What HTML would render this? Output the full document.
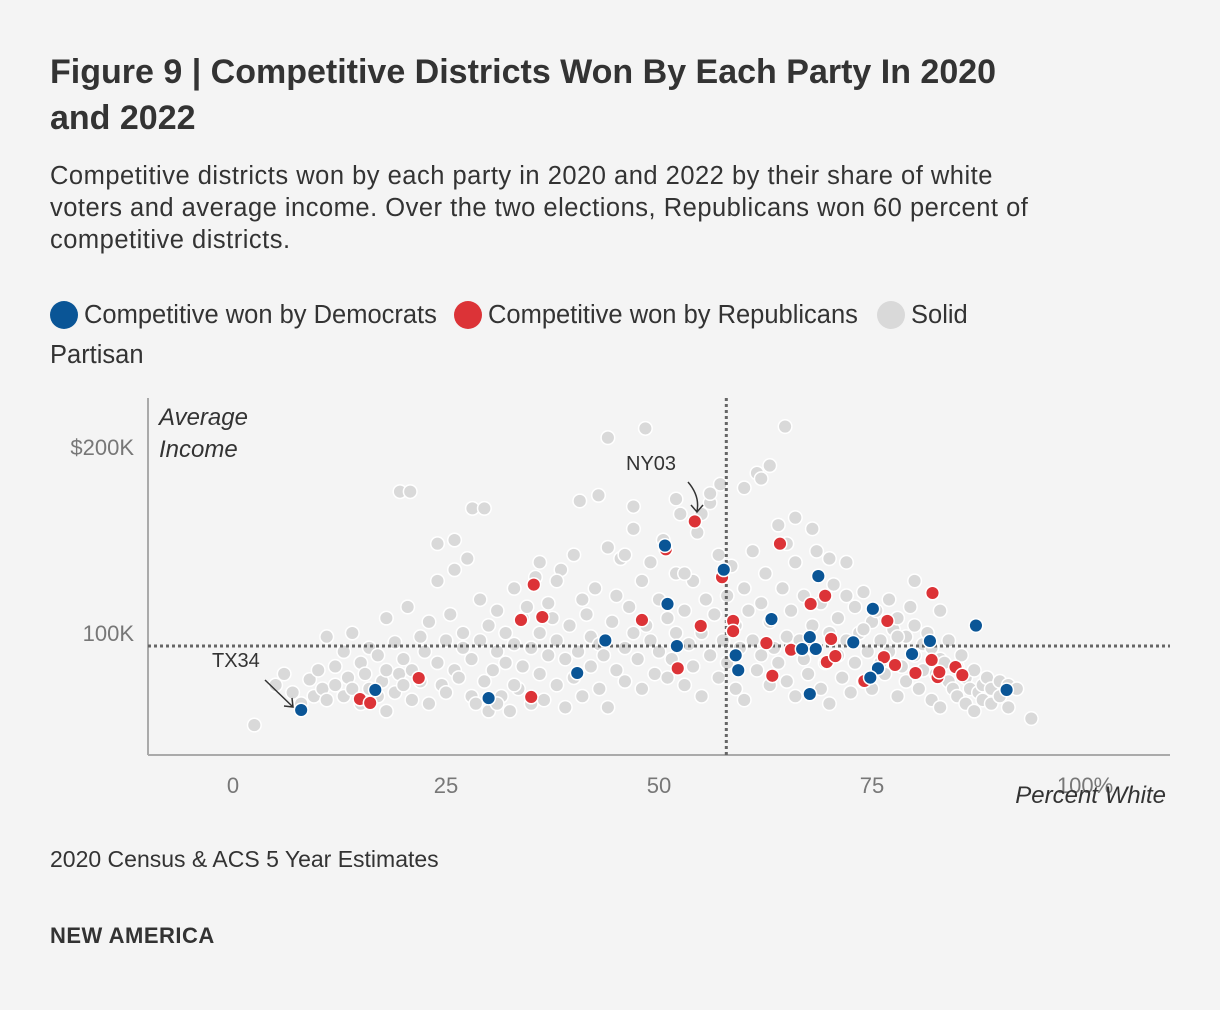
<!DOCTYPE html>
<html><head><meta charset="utf-8">
<style>
body{margin:0;width:1220px;height:1010px;background:#f4f4f4;font-family:"Liberation Sans",sans-serif;color:#333;position:relative;overflow:hidden}
.t{position:absolute;left:50px;margin:0}
h1{font-size:34px;font-weight:bold;line-height:46px;top:49px;color:#333;width:1000px}
.sub{font-size:25.5px;line-height:32px;top:160px;width:1000px;letter-spacing:0.5px}
.leg{font-size:25.5px;line-height:40px;top:295px;width:1000px}
.dot{display:inline-block;width:28px;height:28px;border-radius:50%;vertical-align:-6px;margin-right:6px}
.src{font-size:23px;top:846px}
.brand{font-size:22px;font-weight:bold;top:923px;letter-spacing:0.5px}
svg{position:absolute;left:0;top:0}
</style></head><body>
<h1 class="t">Figure 9 | Competitive Districts Won By Each Party In 2020 and 2022</h1>
<p class="t sub">Competitive districts won by each party in 2020 and 2022 by their share of white voters and average income. Over the two elections, Republicans won 60 percent of competitive districts.</p>
<div class="t leg">
<span><span class="dot" style="background:#0a5596"></span>Competitive won by Democrats</span>
<span style="margin-left:10px"><span class="dot" style="background:#dc3337"></span>Competitive won by Republicans</span>
<span style="margin-left:12px"><span class="dot" style="background:#d9d9d9"></span>Solid Partisan</span>
</div>
<p class="t src">2020 Census &amp; ACS 5 Year Estimates</p>
<p class="t brand">NEW AMERICA</p>
<svg id="chart" width="1220" height="1010"></svg>
<script>
const xTicks=[0,25,50,75];
const yTicks=[100,200];
const yTickLabels=["100K","$200K"];
const xRef=57.9, yRef=93;
const grayX=[
2.5,5,6,7,8,9,9.5,10,10.5,11,
11,12,12,13,13,13.5,14,14,15,15,
15.5,16,16,17,17,17.5,18,18,19,19,
19.5,20,20,20.5,21,21,22,22,22.5,23,
23,24,24,24.5,25,25,25.5,26,26,26.5,
27,27,27.5,28,28,28.5,29,29,29.5,30,
30,30.5,31,31,31.5,32,32,32.5,33,33,
33.5,34,34,34.5,35,35,35.5,36,36,36.5,
37,37,37.5,38,38,38.5,39,39,39.5,40,
40,40.5,41,41,41.5,42,42,42.5,43,43,
43.5,44,44,44.5,45,45,45.5,46,46,46.5,
47,47,47.5,48,48,48.5,49,49,49.5,50,
50,50.5,51,51,51.5,52,52,52.5,53,53,
53.5,54,54,54.5,55,55,55.5,56,56,56.5,
57,57,57.5,58,58,58.5,59,59,59.5,60,
60,60.5,61,61,61.5,62,62,62.5,63,63,
63.5,64,64,64.5,65,65,65.5,66,66,66.5,
67,67,67.5,68,68,68.5,69,69,69.5,70,
70,70.5,71,71,71.5,72,72,72.5,73,73,
73.5,74,74,74.5,75,75,75.5,76,76,76.5,
77,77,77.5,78,78,78.5,79,79,79.5,80,
80,80.5,81,81,81.5,82,82,82.5,83,83,
83.5,84,84,84.5,85,85,85.5,86,86,86.5,
87,87,87.5,88,88,88.5,89,89,90,90,
91,91,92,93.7,19.6,20.8,28.1,29.5,44,48.4,
64.8,61.5,62,57.2,42.9,40.7,47,52,56,60,
66,68,70,80,83,38,36,26,24,55,
53,46,63,65,72,74,78,33,31,18];
const grayY=[
50.5,72,78,68,62,75,66,80,70,98,
64,72,82,66,90,76,100,70,84,62,
78,92,70,88,66,74,80,108,68,95,
78,72,86,114,64,80,98,74,90,106,
62,84,128,72,96,68,110,80,134,76,
92,100,140,66,86,62,96,118,74,104,
58,80,90,112,66,100,84,58,94,124,
70,108,82,114,62,92,130,78,100,64,
116,88,108,72,96,134,60,86,104,76,
142,90,118,66,110,82,98,124,70,94,
88,146,60,106,120,80,140,92,74,114,
100,156,86,128,70,104,96,138,78,118,
90,150,76,108,86,132,100,164,72,112,
94,128,82,154,66,100,118,88,170,110,
76,142,96,120,84,136,70,104,92,124,
64,112,96,144,80,116,88,132,72,106,
92,158,84,124,74,98,112,138,66,96,
86,120,78,104,92,144,70,116,84,100,
62,126,88,108,76,138,96,68,114,84,
100,74,122,90,106,70,112,84,96,78,
118,90,102,66,108,82,98,74,114,88,
104,70,94,80,100,64,92,78,86,60,
84,74,96,70,82,66,88,62,76,70,
58,80,68,72,64,76,70,62,74,66,
60,72,70,54,176,176,167,167,205,210,
211,186,183,180,174,171,168,172,175,178,
162,156,140,128,112,128,138,150,148,164,
132,142,190,148,120,102,98,72,62,58];
const demX=[8.0,16.7,30,40.4,43.7,50.7,51,52.1,57.6,59,59.3,63.2,68.7,67.7,66.8,68.4,67.7,72.8,75.1,75.7,74.8,79.7,81.8,87.2,90.8];
const demY=[58.6,69.4,65,78.5,96,147,115.6,93,134,88,80,107.5,130.6,97.8,91.4,91.4,67.2,95,113,81,76,88.7,95.7,104,69.4];
const repX=[14.9,16.1,21.8,33.8,35.3,36.3,35,48,50.8,52.2,54.2,54.9,57.4,58.7,58.7,62.6,63.3,64.2,65.5,67.8,69.5,70.2,69.7,70.7,76.4,76.8,77.7,74.1,80.1,82.1,82,82.7,82.9,84.8,85.6];
const repY=[64.5,62.4,75.8,107,126,108.6,65.6,107,145,81,160,103.8,130,106.5,101,94.6,77,148,91,115.6,120,96.8,84.4,87.6,87,106.5,82.8,74.2,78.5,121.5,85.5,76.3,79,81.7,77.4];

const svg=document.getElementById('chart');
const NS='http://www.w3.org/2000/svg';
const sx=v=>233+v*8.52;
const sy=v=>819-v*1.86;
function mk(tag,attrs,parent){const e=document.createElementNS(NS,tag);for(const k in attrs)e.setAttribute(k,attrs[k]);(parent||svg).appendChild(e);return e;}
const plotL=148,plotR=1170,plotT=398,plotB=755;
let a=mk('line',{x1:plotL,y1:plotT,x2:plotL,y2:plotB,stroke:'#aaa','stroke-width':2});


a=mk('line',{x1:plotL,y1:plotB,x2:plotR,y2:plotB,stroke:'#aaa','stroke-width':2});


xTicks.forEach(t=>{const e=mk('text',{x:sx(t),y:793,'text-anchor':'middle','font-size':22,fill:'#777','font-family':'Liberation Sans'});e.textContent=t;

});
let h=mk('text',{x:sx(100),y:793,'text-anchor':'middle','font-size':22,fill:'#777','font-family':'Liberation Sans'});h.textContent='100%';


yTicks.forEach((t,i)=>{const e=mk('text',{x:134,y:sy(t)+8,'text-anchor':'end','font-size':22,fill:'#777','font-family':'Liberation Sans'});e.textContent=yTickLabels[i];

});
function dots(X,Y,fill,name){const n=Math.min(X.length,Y.length);for(let i=0;i<n;i++){const c=mk('circle',{cx:sx(X[i]),cy:sy(Y[i]),r:6.8,fill:fill,stroke:'#fff','stroke-width':1.5});

}}
dots(grayX,grayY,'#d9d9d9','solid-partisan-point');
a=mk('line',{x1:sx(xRef),y1:plotT,x2:sx(xRef),y2:plotB,stroke:'#666','stroke-width':3,'stroke-dasharray':'3 3'});


a=mk('line',{x1:plotL,y1:sy(yRef),x2:plotR,y2:sy(yRef),stroke:'#666','stroke-width':3,'stroke-dasharray':'3 3'});


dots(repX,repY,'#dc3337','republican-point');
dots(demX,demY,'#0a5596','democrat-point');
const t1=mk('text',{x:159,y:425,'font-size':24,'font-style':'italic',fill:'#333','font-family':'Liberation Sans'});t1.textContent='Average';


const t2=mk('text',{x:159,y:457,'font-size':24,'font-style':'italic',fill:'#333','font-family':'Liberation Sans'});t2.textContent='Income';


const t3=mk('text',{x:1166,y:803,'text-anchor':'end','font-size':24,'font-style':'italic',fill:'#333','font-family':'Liberation Sans'});t3.textContent='Percent White';


const n1=mk('text',{x:626,y:470,'font-size':20,fill:'#333','font-family':'Liberation Sans'});n1.textContent='NY03';


a=mk('path',{d:'M688 482 Q700 496 697 511 M691 505 L697 512 L703 505',fill:'none',stroke:'#333','stroke-width':1.5});


const n2=mk('text',{x:212,y:667,'font-size':20,fill:'#333','font-family':'Liberation Sans'});n2.textContent='TX34';


a=mk('path',{d:'M265 680 L293 707 M284 706 L293 707 L292 698',fill:'none',stroke:'#333','stroke-width':1.5});


</script>
</body></html>
